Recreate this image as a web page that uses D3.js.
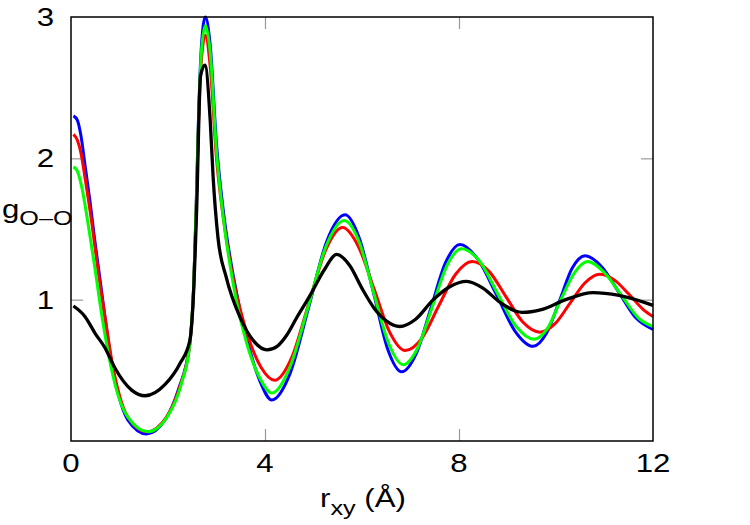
<!DOCTYPE html>
<html>
<head>
<meta charset="utf-8">
<script src="https://cdn.jsdelivr.net/npm/d3@7"></script>
<style>
  body { margin: 0; background: #fff; }
  text { font-family: "Liberation Sans", Arial, sans-serif; fill: #000; }
</style>
</head>
<body>
<script>
const w = 750;
const h = 525;

// [r (Å), g] points
const blue = [
  [0.05, 2.30], [0.13, 2.27], [0.2, 2.17], [0.29, 1.95], [0.39, 1.70], [0.49, 1.42], [0.6, 1.14],
  [0.7, 0.88], [0.84, 0.55], [0.97, 0.34], [1.17, 0.15], [1.56, 0.05], [1.94, 0.15],
  [2.21, 0.36], [2.45, 0.69], [2.53, 1.1], [2.58, 1.65], [2.63, 2.3], [2.69, 2.8],
  [2.77, 3.0], [2.87, 2.8], [3.0, 2.1], [3.14, 1.63], [3.35, 1.16], [3.65, 0.69],
  [3.9, 0.42], [4.14, 0.29], [4.52, 0.48], [4.9, 0.945], [5.27, 1.41], [5.65, 1.60],
  [5.94, 1.44], [6.24, 1.045], [6.53, 0.65], [6.82, 0.49], [7.12, 0.62], [7.42, 0.94],
  [7.72, 1.26], [8.02, 1.39], [8.40, 1.28], [8.78, 1.03], [9.15, 0.78], [9.53, 0.67],
  [9.8, 0.76], [10.07, 0.99], [10.33, 1.22], [10.6, 1.31], [10.95, 1.23], [11.3, 1.05],
  [11.65, 0.87], [12.0, 0.79]
];
const red = [
  [0.05, 2.17], [0.13, 2.13], [0.21, 2.03], [0.29, 1.86], [0.43, 1.54], [0.56, 1.2], [0.7, 0.88],
  [0.84, 0.57], [0.97, 0.36], [1.17, 0.17], [1.56, 0.065], [1.97, 0.17], [2.24, 0.38],
  [2.45, 0.69], [2.53, 1.1], [2.58, 1.62], [2.63, 2.25], [2.69, 2.7], [2.77, 2.87],
  [2.87, 2.65], [3.0, 2.0], [3.14, 1.58], [3.35, 1.14], [3.65, 0.74], [3.92, 0.52],
  [4.2, 0.43], [4.55, 0.59], [4.9, 0.97], [5.25, 1.35], [5.6, 1.51], [5.92, 1.38],
  [6.25, 1.075], [6.57, 0.77], [6.89, 0.64], [7.24, 0.73], [7.58, 0.955], [7.93, 1.18],
  [8.27, 1.27], [8.62, 1.2], [8.97, 1.02], [9.32, 0.84], [9.67, 0.77], [9.98, 0.83],
  [10.29, 0.975], [10.6, 1.12], [10.9, 1.18], [11.2, 1.14], [11.5, 1.04], [11.8, 0.93],
  [12.0, 0.88]
];
const green = [
  [0.05, 1.94], [0.13, 1.91], [0.22, 1.8], [0.36, 1.52], [0.49, 1.23], [0.63, 0.9], [0.77, 0.62],
  [0.94, 0.36], [1.17, 0.17], [1.59, 0.065], [2.0, 0.18], [2.28, 0.41], [2.45, 0.69],
  [2.53, 1.1], [2.58, 1.64], [2.63, 2.28], [2.69, 2.76], [2.77, 2.94], [2.87, 2.75],
  [3.0, 2.05], [3.14, 1.58], [3.35, 1.1], [3.65, 0.66], [3.9, 0.44], [4.14, 0.34],
  [4.51, 0.52], [4.89, 0.95], [5.26, 1.38], [5.63, 1.56], [5.94, 1.41], [6.24, 1.05],
  [6.55, 0.69], [6.85, 0.54], [7.15, 0.66], [7.45, 0.95], [7.75, 1.24], [8.05, 1.36],
  [8.43, 1.27], [8.8, 1.04], [9.18, 0.81], [9.55, 0.72], [9.83, 0.80], [10.1, 1.0],
  [10.38, 1.19], [10.65, 1.27], [11.0, 1.19], [11.35, 1.03], [11.7, 0.87], [12.0, 0.81]
];
const black = [
  [0.05, 0.955], [0.29, 0.88], [0.5, 0.76], [0.7, 0.66], [0.9, 0.52], [1.25, 0.36],
  [1.53, 0.32], [1.94, 0.40], [2.25, 0.55], [2.45, 0.71], [2.52, 1.0], [2.59, 1.63],
  [2.67, 2.58], [2.76, 2.66], [2.87, 2.27], [2.93, 1.87], [3.03, 1.44], [3.2, 1.16],
  [3.48, 0.88], [3.76, 0.71], [4.04, 0.645], [4.25, 0.67], [4.45, 0.75], [4.65, 0.87],
  [4.93, 1.03], [5.22, 1.21], [5.48, 1.32], [5.75, 1.24], [6.0, 1.08], [6.25, 0.94],
  [6.5, 0.85], [6.78, 0.81], [7.1, 0.86], [7.47, 1.0], [7.8, 1.09], [8.16, 1.13],
  [8.5, 1.08], [8.85, 0.98], [9.3, 0.91], [9.7, 0.93], [10.2, 1.0], [10.76, 1.05],
  [11.3, 1.03], [12.0, 0.96]
];

const xTicks = [0, 4, 8, 12];
const yTicks = [1, 2, 3];

const series = [
  { name: "blue", data: blue, color: "#0000ff", width: 3 },
  { name: "red", data: red, color: "#ff0000", width: 3 },
  { name: "green", data: green, color: "#00ff00", width: 3 },
  { name: "black", data: black, color: "#000000", width: 3.3 }
];

const padLeft = 71, padRight = 653, padTop = 17, padBottom = 441;

const svg = d3.select("body")
  .append("svg")
  .attr("width", w)
  .attr("height", h);

const xScale = d3.scaleLinear().domain([0, 12]).range([padLeft, padRight]);
const yScale = d3.scaleLinear().domain([0, 3]).range([padBottom, padTop]);

// inward grey ticks on all four sides
const tickLen = 12;
svg.append("g")
  .attr("transform", "translate(0," + padBottom + ")")
  .call(d3.axisTop(xScale).tickValues(xTicks.slice(1, -1)).tickSize(tickLen).tickFormat(""))
  .call(g => g.select(".domain").remove());
svg.append("g")
  .attr("transform", "translate(0," + padTop + ")")
  .call(d3.axisBottom(xScale).tickValues(xTicks.slice(1, -1)).tickSize(tickLen).tickFormat(""))
  .call(g => g.select(".domain").remove());
svg.append("g")
  .attr("transform", "translate(" + padLeft + ",0)")
  .call(d3.axisRight(yScale).tickValues(yTicks.slice(0, -1)).tickSize(tickLen).tickFormat(""))
  .call(g => g.select(".domain").remove());
svg.append("g")
  .attr("transform", "translate(" + padRight + ",0)")
  .call(d3.axisLeft(yScale).tickValues(yTicks.slice(0, -1)).tickSize(tickLen).tickFormat(""))
  .call(g => g.select(".domain").remove());
svg.selectAll(".tick line").attr("stroke", "#999").attr("stroke-width", 1.2);

// tick labels
svg.append("g").selectAll("text")
  .data(xTicks)
  .join("text")
  .attr("transform", d => "translate(" + xScale(d) + ",472) scale(1.2,1)")
  .attr("text-anchor", "middle")
  .attr("font-size", 26)
  .text(d => d);

svg.append("g").selectAll("text")
  .data(yTicks)
  .join("text")
  .attr("transform", d => "translate(54," + (yScale(d) + 9) + ") scale(1.2,1)")
  .attr("text-anchor", "end")
  .attr("font-size", 26)
  .text(d => d);

// curves
const line = d3.line()
  .x(d => xScale(d[0]))
  .y(d => yScale(d[1]))
  .curve(d3.curveMonotoneX);

svg.append("g").selectAll("path")
  .data(series)
  .join("path")
  .attr("fill", "none")
  .attr("stroke", d => d.color)
  .attr("stroke-width", d => d.width)
  .attr("stroke-linejoin", "round")
  .attr("d", d => line(d.data));

// frame
svg.append("rect")
  .attr("x", padLeft)
  .attr("y", padTop)
  .attr("width", padRight - padLeft)
  .attr("height", padBottom - padTop)
  .attr("fill", "none")
  .attr("stroke", "#000")
  .attr("stroke-width", 1.5);

// axis titles
const xl = svg.append("text")
  .attr("transform", "translate(320,507) scale(1.2,1)")
  .attr("font-size", 26);
xl.append("tspan").text("r");
xl.append("tspan").attr("font-size", 21).attr("dy", 8).text("xy");
xl.append("tspan").attr("dy", -8).text(" (Å)");

const yl = svg.append("text")
  .attr("transform", "translate(2,218) scale(1.2,1)")
  .attr("font-size", 26);
yl.append("tspan").text("g");
yl.append("tspan").attr("font-size", 21).attr("dy", 7).text("O–O");
</script>
</body>
</html>
